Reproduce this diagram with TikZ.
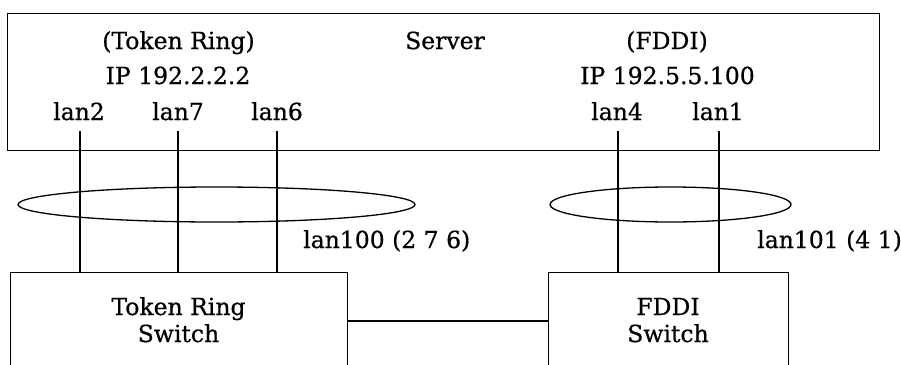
\documentclass[tikz,border=0pt]{standalone}
\usepackage{fontspec}
\setmainfont[FakeBold=0.6]{DejaVu Serif}
\usetikzlibrary{shapes.geometric}
\tikzset{
  box/.style={draw, line width=1.4pt, anchor=north west, inner sep=0pt},
  lbl/.style={anchor=base, inner sep=0pt, font=\fontsize{23.5}{28}\selectfont},
  lblw/.style={lbl, anchor=base west},
  ring/.style={draw, ellipse, line width=1.3pt, inner sep=0pt},
  wire/.style={line width=1.3pt},
}
\begin{document}
\begin{tikzpicture}[x=1pt, y=-1pt]
  \clip (0,0) rectangle (901,364);
  \fill[white] (0,0) rectangle (901,364);

  % server and the two switches
  \node[box, minimum width=872pt, minimum height=137.5pt] (server) at (7,12.5) {};
  \node[box, minimum width=337pt, minimum height=130pt] (trsw) at (10,272) {};
  \node[box, minimum width=240pt, minimum height=130pt] (fsw) at (548,272) {};

  % server labels
  \node[lbl] (trtitle) at (178.5,49) {(Token Ring)};
  \node[lbl] (trip) at (178,84) {IP 192.2.2.2};
  \node[lbl] (srv) at (445,49) {Server};
  \node[lbl] (ftitle) at (667,49) {(FDDI)};
  \node[lbl] (fip) at (667.5,84) {IP 192.5.5.100};
  \node[lbl] (l2) at (79,120) {lan2};
  \node[lbl] (l7) at (178,120) {lan7};
  \node[lbl] (l6) at (277,120) {lan6};
  \node[lbl] (l4) at (617,120) {lan4};
  \node[lbl] (l1) at (718,120) {lan1};

  % switch labels
  \node[lbl] (trsw1) at (178.5,315) {Token Ring};
  \node[lbl] (trsw2) at (178.5,342) {Switch};
  \node[lbl] (fsw1) at (668,315) {FDDI};
  \node[lbl] (fsw2) at (668,342) {Switch};

  % aggregated links
  \node[ring, minimum width=397pt, minimum height=35pt] (agg100) at (216.5,204.5) {};
  \node[ring, minimum width=241pt, minimum height=35pt] (agg101) at (670.5,204.5) {};
  \node[lblw] (agg100lbl) at (303,248) {lan100 (2 7 6)};
  \node[lblw] (agg101lbl) at (757,248) {lan101 (4 1)};

  % port wires from the server down to the switches
  \coordinate (p2) at (80,131);
  \coordinate (p7) at (178,131);
  \coordinate (p6) at (277,131);
  \coordinate (p4) at (618,131);
  \coordinate (p1) at (719,131);
  \draw[wire] (p2) -- (p2 |- trsw.north);
  \draw[wire] (p7) -- (p7 |- trsw.north);
  \draw[wire] (p6) -- (p6 |- trsw.north);
  \draw[wire] (p4) -- (p4 |- fsw.north);
  \draw[wire] (p1) -- (p1 |- fsw.north);

  % switch-to-switch link
  \coordinate (lnk) at (0,321);
  \draw[wire] (trsw.east |- lnk) -- (fsw.west |- lnk);
\end{tikzpicture}
\end{document}
